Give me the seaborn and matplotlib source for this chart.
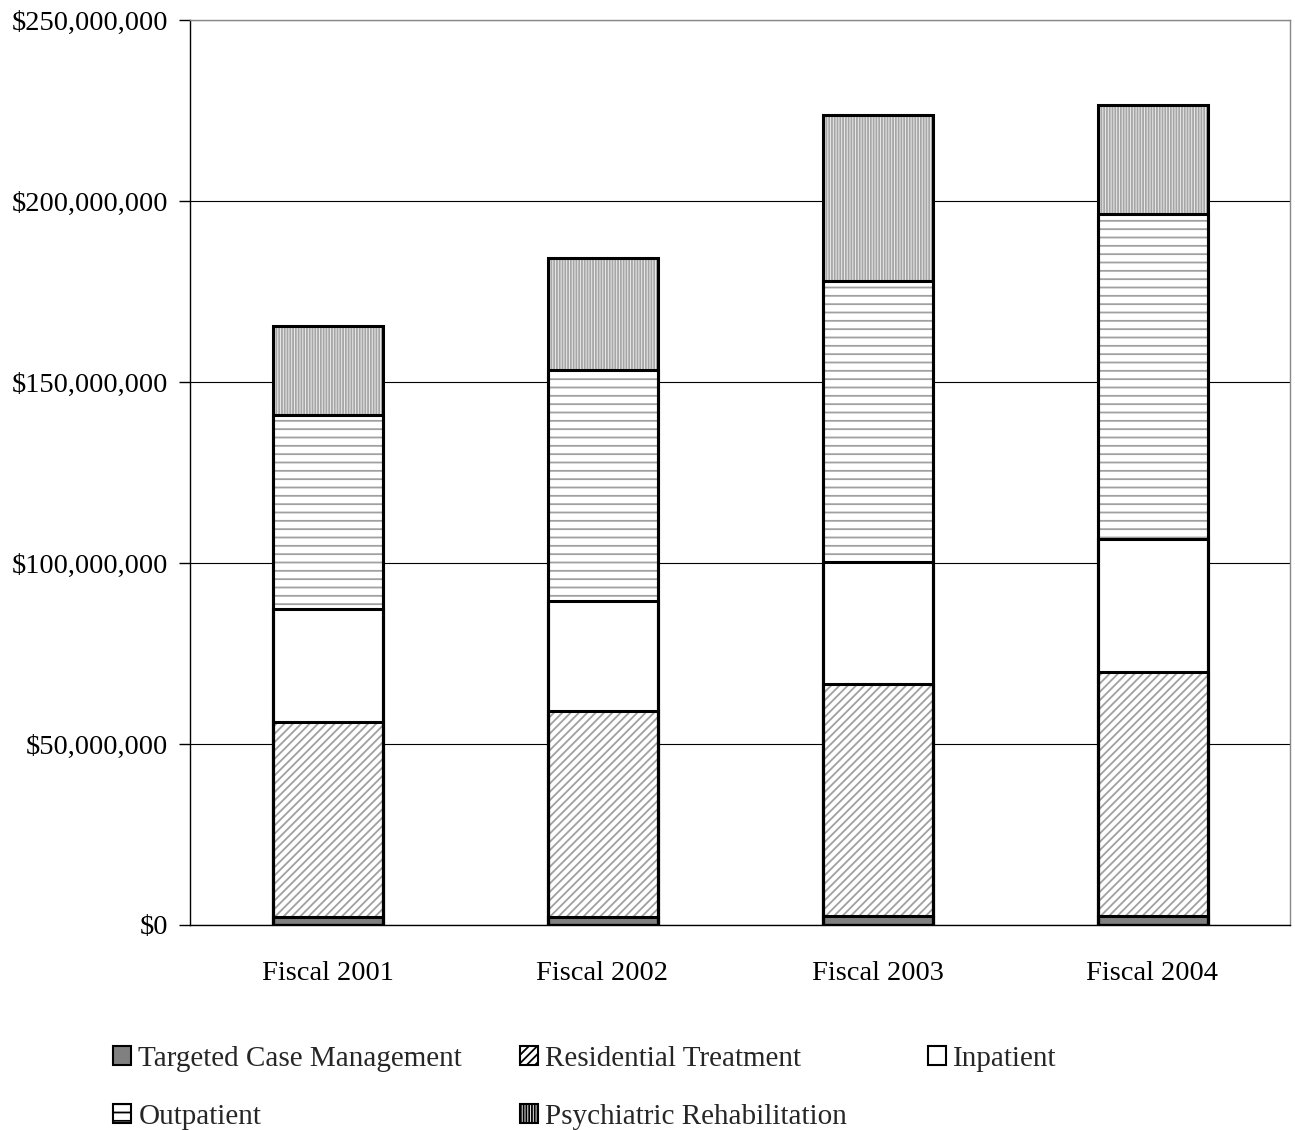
import matplotlib
matplotlib.use("Agg")
import matplotlib.pyplot as plt
import seaborn as sns
import pandas as pd
import numpy as np
from matplotlib.patches import Patch
from matplotlib.ticker import FuncFormatter, MultipleLocator

years = ["Fiscal 2001", "Fiscal 2002", "Fiscal 2003", "Fiscal 2004"]
series_names = ["Targeted Case Management", "Residential Treatment", "Inpatient",
                "Outpatient", "Psychiatric Rehabilitation"]
tcm = [2.2e6, 2.2e6, 2.5e6, 2.5e6]
residential = [53.9e6, 56.9e6, 64.1e6, 67.4e6]
inpatient = [31.2e6, 30.4e6, 33.7e6, 36.7e6]
outpatient = [53.6e6, 63.8e6, 77.6e6, 89.8e6]
psych = [24.6e6, 31.0e6, 45.9e6, 30.1e6]

sns.set_theme(style="white")
plt.rcParams["font.family"] = ["Liberation Serif", "DejaVu Serif"]
plt.rcParams["hatch.linewidth"] = 1.3

FS = 20.5

fig = plt.figure(figsize=(12.95, 11.3), dpi=100)
ax = fig.add_axes([190/1295, 1 - 925/1130, 1100/1295, 905/1130])

layers = [tcm, residential, inpatient, outpatient, psych]
cum = np.cumsum(np.array(layers), axis=0)

styles = [
    dict(face="#808080", hatch=None, hcolor="#808080"),
    dict(face="white", hatch="////", hcolor="#a0a0a0"),
    dict(face="white", hatch=None, hcolor="white"),
    dict(face="white", hatch="--", hcolor="#a0a0a0"),
    dict(face="#ececec", hatch="||||||", hcolor="#a6a6a6"),
]

# draw from tallest to shortest, hatched fill first
for i in range(len(layers) - 1, -1, -1):
    df = pd.DataFrame({"year": years, "value": cum[i]})
    n0 = len(ax.patches)
    sns.barplot(data=df, x="year", y="value", ax=ax, width=0.4,
                color=styles[i]["face"], saturation=1, errorbar=None)
    for p in ax.patches[n0:]:
        p.set_facecolor(styles[i]["face"])
        p.set_edgecolor(styles[i]["hcolor"])
        p.set_linewidth(0)
        if styles[i]["hatch"]:
            p.set_hatch(styles[i]["hatch"])

# outlines
for i in range(len(layers) - 1, -1, -1):
    df = pd.DataFrame({"year": years, "value": cum[i]})
    sns.barplot(data=df, x="year", y="value", ax=ax, width=0.4, fill=False,
                color="black", edgecolor="black", linewidth=2.2, errorbar=None)

ax.set_ylim(0, 250e6)
ax.set_xlim(-0.5, 3.5)
ax.yaxis.set_major_locator(MultipleLocator(50e6))
ax.yaxis.set_major_formatter(FuncFormatter(lambda v, p: "${:,.0f}".format(v)))
ax.grid(axis="y", color="black", linewidth=0.8)
ax.set_axisbelow(True)
ax.set_xlabel("")
ax.set_ylabel("")
for s in ["top", "right"]:
    ax.spines[s].set_color("#888888")
    ax.spines[s].set_linewidth(1)
for s in ["left", "bottom"]:
    ax.spines[s].set_color("black")
    ax.spines[s].set_linewidth(1)

ax.set_xticks([0, 1, 2, 3])
ax.set_xticklabels(years, fontsize=FS)
ax.tick_params(axis="x", length=0, pad=26)
ax.set_xticks([-0.5, 0.5, 1.5, 2.5, 3.5], minor=True)
ax.tick_params(axis="x", which="minor", length=8, width=1, color="black", direction="out")
ax.tick_params(axis="y", labelsize=FS, length=8, width=1, color="black", direction="out", pad=8)
ax.tick_params(axis="y", which="major", left=True)
for lab in ax.get_xticklabels() + ax.get_yticklabels():
    lab.set_color("black")

handles = []
for i in range(len(layers)):
    st = styles[i]
    handles.append(Patch(facecolor=st["face"], edgecolor="black", linewidth=1.5,
                         hatch=st["hatch"]))

# legend laid out in three columns like the reference (row-major order)
columns = [([0, 3], 113), ([1, 4], 520), ([2], 928)]
for idx, xpx in columns:
    fig.legend([handles[i] for i in idx], [series_names[i] for i in idx],
               loc="upper left", bbox_to_anchor=(xpx/1295, 1 - 1046/1130),
               frameon=False, fontsize=21, handlelength=0.62, handleheight=0.62,
               handletextpad=0.25, labelspacing=1.08, borderpad=0, borderaxespad=0)

fig.savefig("out.png", dpi=100)
